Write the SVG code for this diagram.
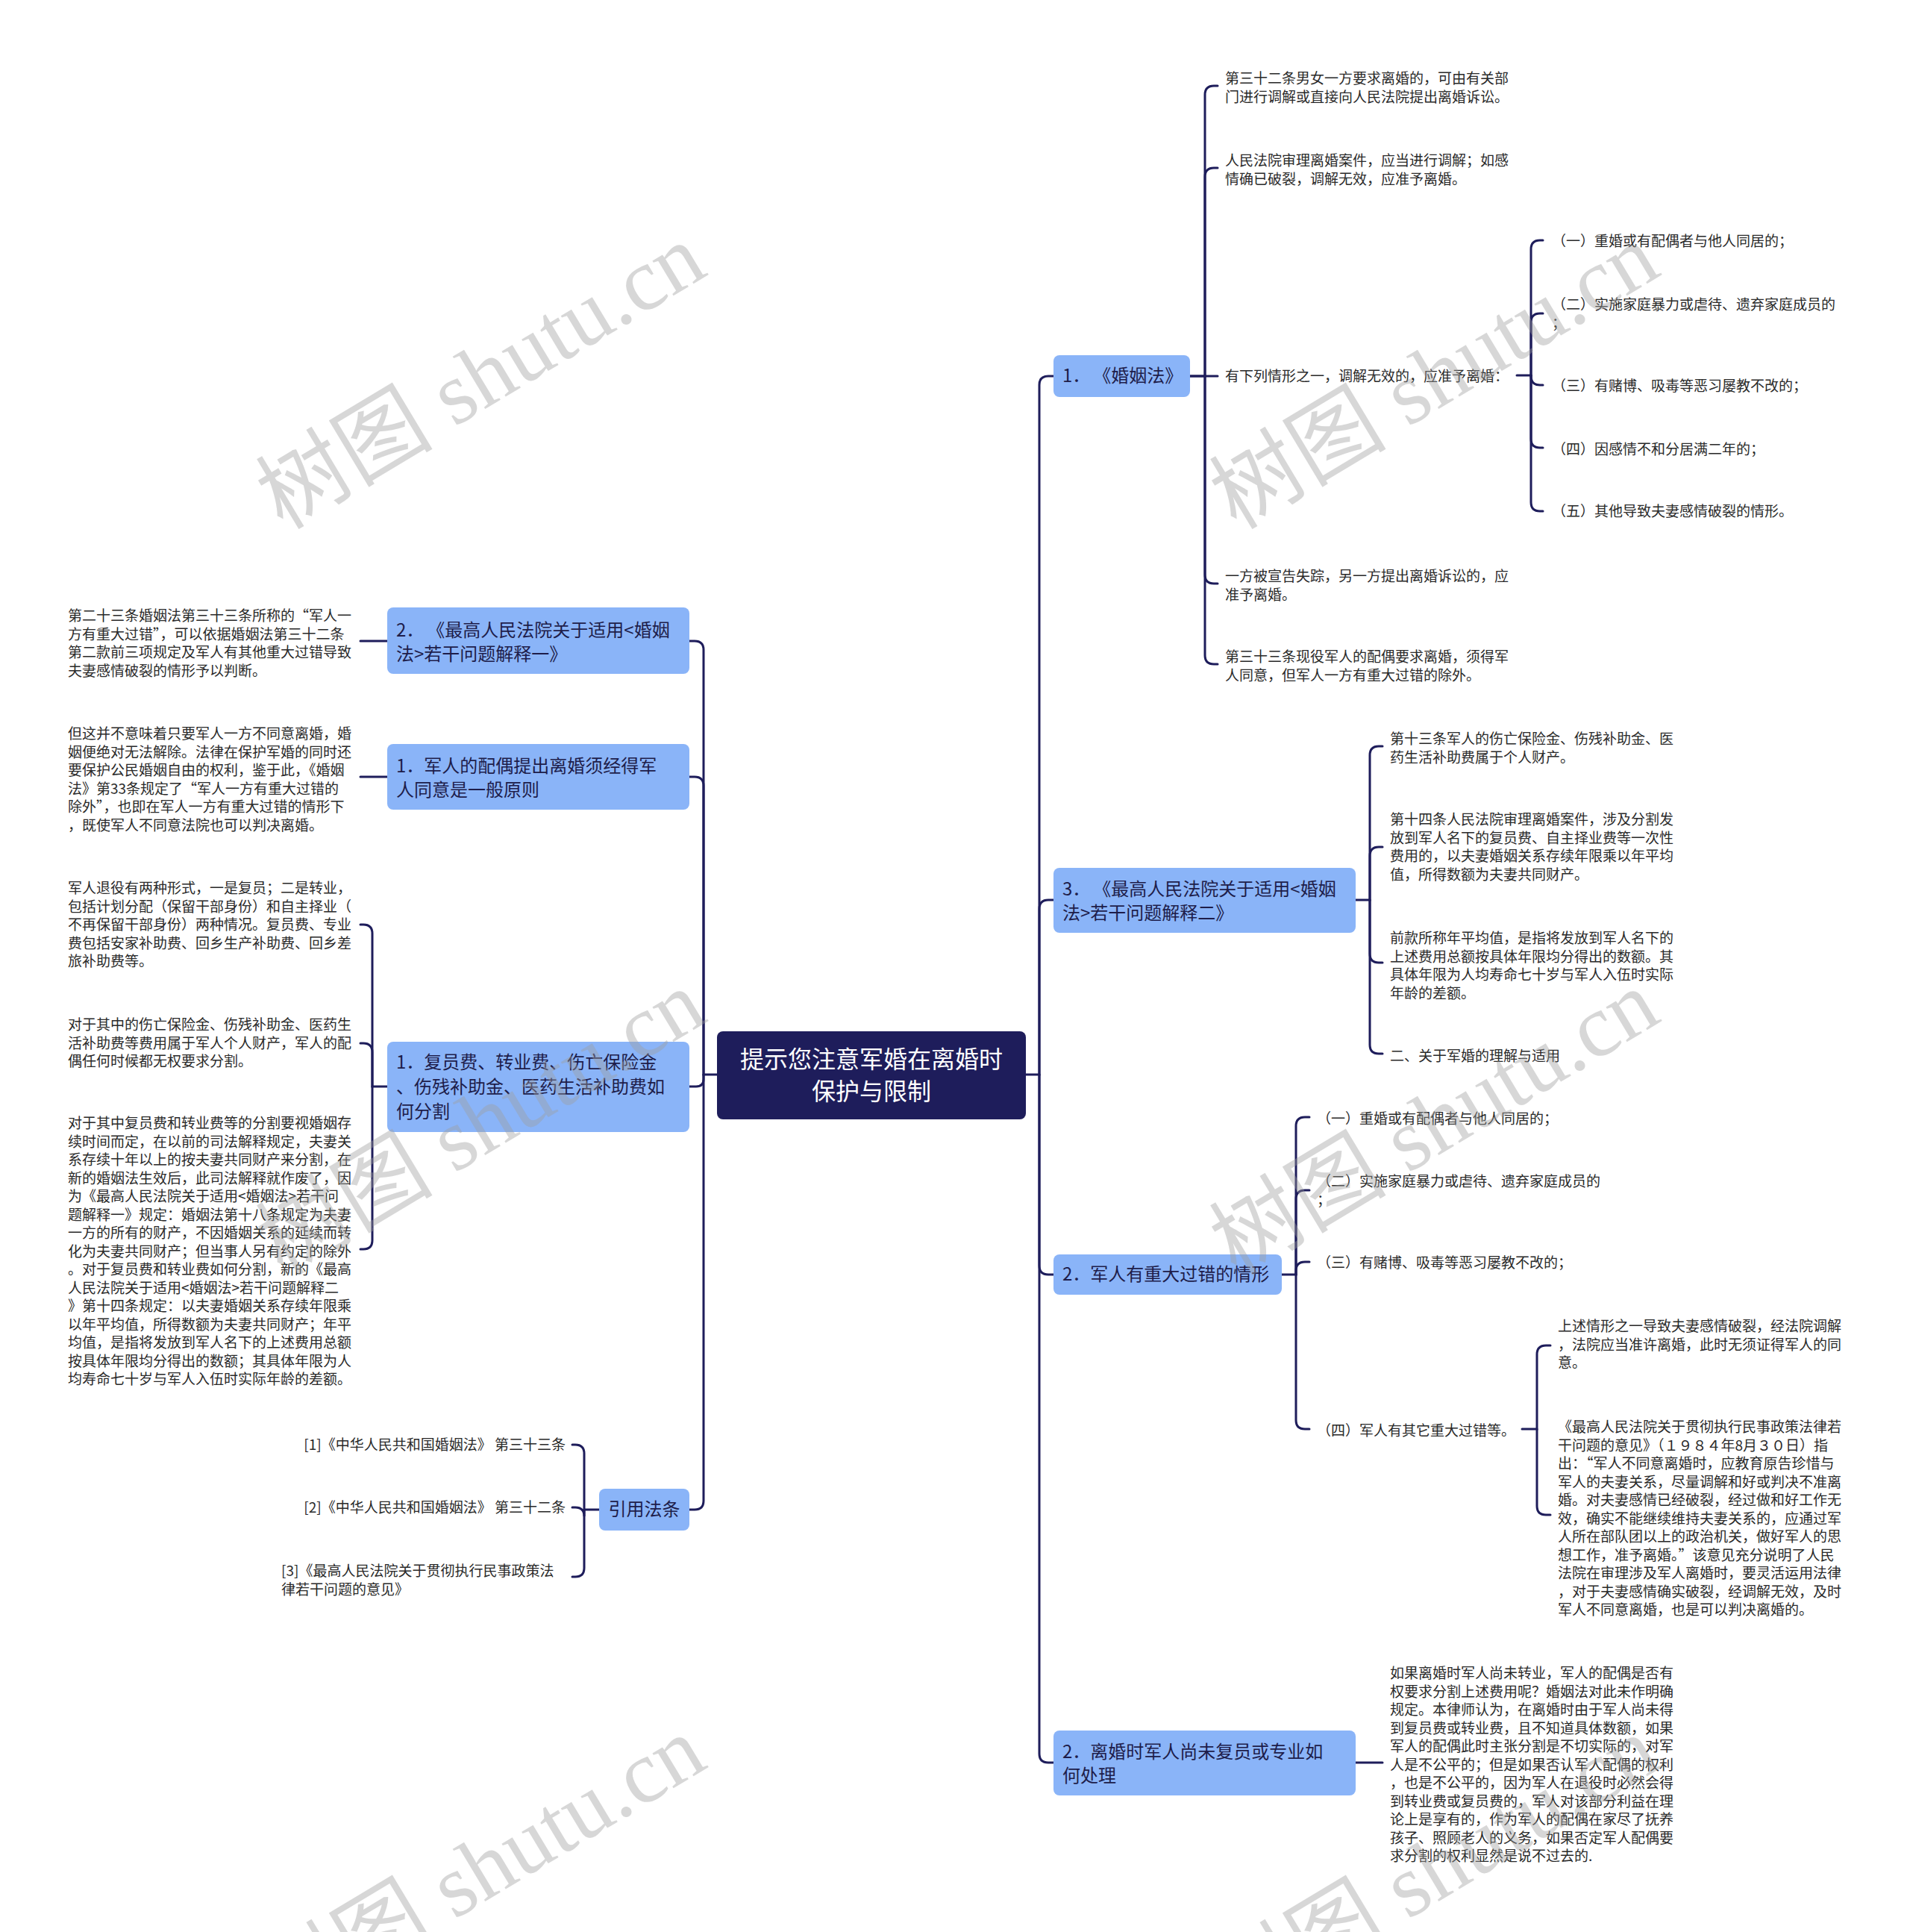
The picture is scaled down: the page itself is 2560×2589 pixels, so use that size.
<svg xmlns="http://www.w3.org/2000/svg" width="2560" height="2589" viewBox="0 0 2560 2589">
<style>
.bg{fill:#ffffff}
.cbox{fill:#1e1d5b}
.box{fill:#8ab4f8}
.ctext{font-family:"Noto Sans CJK SC","Liberation Sans",sans-serif;font-size:32px;fill:#ffffff;text-anchor:middle}
.btext{font-family:"Noto Sans CJK SC","Liberation Sans",sans-serif;font-size:24px;fill:#1e1d4a}
.leaf{font-family:"Noto Sans CJK SC","Liberation Sans",sans-serif;font-size:19px;fill:#2a2a2a}
.conn path{fill:none;stroke:#1e1d5b;stroke-width:3;stroke-linecap:round}
.wm{font-family:"Liberation Serif","Noto Sans CJK SC",serif;font-size:119px;fill:#9e9e9e;opacity:0.4}
</style>
<rect class="bg" x="0" y="0" width="2560" height="2589"/>

<g id="connectors" class="conn">
<path d="M1374,1440 H1393 V516 Q1393,504 1405,504 H1412"/>
<path d="M1393,1440 V1218 Q1393,1206 1405,1206 H1412"/>
<path d="M1393,1440 V1696 Q1393,1708 1405,1708 H1412"/>
<path d="M1393,1440 V2350 Q1393,2362 1405,2362 H1412"/>
<path d="M961,1440 H943 V871 Q943,859 931,859 H923"/>
<path d="M943,1440 V1053 Q943,1041 931,1041 H923"/>
<path d="M943,1440 V1446 Q943,1456 933,1456 H923"/>
<path d="M943,1440 V2011 Q943,2023 931,2023 H923"/>
<path d="M1595,504 H1615 V127 Q1615,115 1627,115 H1632"/>
<path d="M1615,504 V237 Q1615,225 1627,225 H1632"/>
<path d="M1595,504 H1632"/>
<path d="M1615,504 V770 Q1615,782 1627,782 H1632"/>
<path d="M1615,504 V878 Q1615,890 1627,890 H1632"/>
<path d="M2033,503 H2052 V334 Q2052,322 2064,322 H2068"/>
<path d="M2052,503 V432 Q2052,420 2064,420 H2068"/>
<path d="M2052,503 V504 Q2052,516 2064,516 H2068"/>
<path d="M2052,503 V588 Q2052,600 2064,600 H2068"/>
<path d="M2052,503 V673 Q2052,685 2064,685 H2068"/>
<path d="M1817,1206 H1836 V1012 Q1836,1000 1848,1000 H1853"/>
<path d="M1836,1206 V1147 Q1836,1135 1848,1135 H1853"/>
<path d="M1836,1206 V1278 Q1836,1290 1848,1290 H1853"/>
<path d="M1836,1206 V1400 Q1836,1412 1848,1412 H1853"/>
<path d="M1718,1708 H1737 V1509 Q1737,1497 1749,1497 H1755"/>
<path d="M1737,1708 V1607 Q1737,1595 1749,1595 H1755"/>
<path d="M1737,1708 V1703 Q1737,1691 1749,1691 H1755"/>
<path d="M1737,1708 V1903 Q1737,1915 1749,1915 H1755"/>
<path d="M2040,1915 H2060 V1815 Q2060,1803 2072,1803 H2078"/>
<path d="M2060,1915 V2018 Q2060,2030 2072,2030 H2078"/>
<path d="M1817,2362 H1853"/>
<path d="M519,859 H483"/>
<path d="M519,1041 H483"/>
<path d="M519,1456 H499 V1251 Q499,1239 487,1239 H483"/>
<path d="M499,1456 V1410 Q499,1398 487,1398 H483"/>
<path d="M499,1456 V1662 Q499,1674 487,1674 H483"/>
<path d="M803,2023 H783 V1948 Q783,1936 771,1936 H767"/>
<path d="M783,2023 V2032 Q783,2020 771,2020 H767"/>
<path d="M783,2023 V2101 Q783,2113 771,2113 H767"/>
</g>

<g id="center">
<rect class="cbox" x="961" y="1382" width="414" height="118" rx="8"/>
<text class="ctext" x="1168" y="1431">提示您注意军婚在离婚时</text>
<text class="ctext" x="1168" y="1474">保护与限制</text>
</g>

<g id="r1">
<rect class="box" x="1412" y="476" width="183" height="56" rx="8"/>
<text class="btext" x="1424" y="512">1．<tspan dx="16">《婚姻法》</tspan></text>
</g>
<g id="r1a"><text class="leaf" x="1642" y="112">第三十二条男女一方要求离婚的，可由有关部<tspan x="1642" dy="24.5">门进行调解或直接向人民法院提出离婚诉讼。</tspan></text></g>
<g id="r1b"><text class="leaf" x="1642" y="222">人民法院审理离婚案件，应当进行调解；如感<tspan x="1642" dy="24.5">情确已破裂，调解无效，应准予离婚。</tspan></text></g>
<g id="r1c"><text class="leaf" x="1642" y="511">有下列情形之一，调解无效的，应准予离婚：</text></g>
<g id="r1c1"><text class="leaf" x="2080" y="330">（一）重婚或有配偶者与他人同居的；</text></g>
<g id="r1c2"><text class="leaf" x="2080" y="415">（二）实施家庭暴力或虐待、遗弃家庭成员的<tspan x="2080" dy="24.5">；</tspan></text></g>
<g id="r1c3"><text class="leaf" x="2080" y="524">（三）有赌博、吸毒等恶习屡教不改的；</text></g>
<g id="r1c4"><text class="leaf" x="2080" y="609">（四）因感情不和分居满二年的；</text></g>
<g id="r1c5"><text class="leaf" x="2080" y="692">（五）其他导致夫妻感情破裂的情形。</text></g>
<g id="r1d"><text class="leaf" x="1642" y="779">一方被宣告失踪，另一方提出离婚诉讼的，应<tspan x="1642" dy="24.5">准予离婚。</tspan></text></g>
<g id="r1e"><text class="leaf" x="1642" y="887">第三十三条现役军人的配偶要求离婚，须得军<tspan x="1642" dy="24.5">人同意，但军人一方有重大过错的除外。</tspan></text></g>

<g id="r3">
<rect class="box" x="1412" y="1163" width="405" height="87" rx="8"/>
<text class="btext" x="1424" y="1200">3．<tspan dx="16">《最高人民法院关于适用&lt;婚姻</tspan><tspan x="1424" dy="32">法&gt;若干问题解释二》</tspan></text>
</g>
<g id="r3a"><text class="leaf" x="1863" y="997">第十三条军人的伤亡保险金、伤残补助金、医<tspan x="1863" dy="24.5">药生活补助费属于个人财产。</tspan></text></g>
<g id="r3b"><text class="leaf" x="1863" y="1105">第十四条人民法院审理离婚案件，涉及分割发<tspan x="1863" dy="24.5">放到军人名下的复员费、自主择业费等一次性</tspan><tspan x="1863" dy="24.5">费用的，以夫妻婚姻关系存续年限乘以年平均</tspan><tspan x="1863" dy="24.5">值，所得数额为夫妻共同财产。</tspan></text></g>
<g id="r3c"><text class="leaf" x="1863" y="1264">前款所称年平均值，是指将发放到军人名下的<tspan x="1863" dy="24.5">上述费用总额按具体年限均分得出的数额。其</tspan><tspan x="1863" dy="24.5">具体年限为人均寿命七十岁与军人入伍时实际</tspan><tspan x="1863" dy="24.5">年龄的差额。</tspan></text></g>
<g id="r3d"><text class="leaf" x="1863" y="1422">二、关于军婚的理解与适用</text></g>

<g id="r2">
<rect class="box" x="1412" y="1681" width="306" height="54" rx="8"/>
<text class="btext" x="1424" y="1716">2．军人有重大过错的情形</text>
</g>
<g id="r2c1"><text class="leaf" x="1765" y="1506">（一）重婚或有配偶者与他人同居的；</text></g>
<g id="r2c2"><text class="leaf" x="1765" y="1590">（二）实施家庭暴力或虐待、遗弃家庭成员的<tspan x="1765" dy="24.5">；</tspan></text></g>
<g id="r2c3"><text class="leaf" x="1765" y="1699">（三）有赌博、吸毒等恶习屡教不改的；</text></g>
<g id="r2c4"><text class="leaf" x="1765" y="1924">（四）军人有其它重大过错等。</text></g>
<g id="r2c4a"><text class="leaf" x="2088" y="1784">上述情形之一导致夫妻感情破裂，经法院调解<tspan x="2088" dy="24.5">，法院应当准许离婚，此时无须证得军人的同</tspan><tspan x="2088" dy="24.5">意。</tspan></text></g>
<g id="r2c4b"><text class="leaf" x="2088" y="1919">《最高人民法院关于贯彻执行民事政策法律若<tspan x="2088" dy="24.5">干问题的意见》（１９８４年8月３０日）指</tspan><tspan x="2088" dy="24.5">出：“军人不同意离婚时，应教育原告珍惜与</tspan><tspan x="2088" dy="24.5">军人的夫妻关系，尽量调解和好或判决不准离</tspan><tspan x="2088" dy="24.5">婚。对夫妻感情已经破裂，经过做和好工作无</tspan><tspan x="2088" dy="24.5">效，确实不能继续维持夫妻关系的，应通过军</tspan><tspan x="2088" dy="24.5">人所在部队团以上的政治机关，做好军人的思</tspan><tspan x="2088" dy="24.5">想工作，准予离婚。”该意见充分说明了人民</tspan><tspan x="2088" dy="24.5">法院在审理涉及军人离婚时，要灵活运用法律</tspan><tspan x="2088" dy="24.5">，对于夫妻感情确实破裂，经调解无效，及时</tspan><tspan x="2088" dy="24.5">军人不同意离婚，也是可以判决离婚的。</tspan></text></g>

<g id="r4">
<rect class="box" x="1412" y="2319" width="405" height="87" rx="8"/>
<text class="btext" x="1424" y="2356">2．离婚时军人尚未复员或专业如<tspan x="1424" dy="32">何处理</tspan></text>
</g>
<g id="r4a"><text class="leaf" x="1863" y="2249">如果离婚时军人尚未转业，军人的配偶是否有<tspan x="1863" dy="24.5">权要求分割上述费用呢？婚姻法对此未作明确</tspan><tspan x="1863" dy="24.5">规定。本律师认为，在离婚时由于军人尚未得</tspan><tspan x="1863" dy="24.5">到复员费或转业费，且不知道具体数额，如果</tspan><tspan x="1863" dy="24.5">军人的配偶此时主张分割是不切实际的，对军</tspan><tspan x="1863" dy="24.5">人是不公平的；但是如果否认军人配偶的权利</tspan><tspan x="1863" dy="24.5">，也是不公平的，因为军人在退役时必然会得</tspan><tspan x="1863" dy="24.5">到转业费或复员费的，军人对该部分利益在理</tspan><tspan x="1863" dy="24.5">论上是享有的，作为军人的配偶在家尽了抚养</tspan><tspan x="1863" dy="24.5">孩子、照顾老人的义务，如果否定军人配偶要</tspan><tspan x="1863" dy="24.5">求分割的权利显然是说不过去的.</tspan></text></g>

<g id="l1">
<rect class="box" x="519" y="814" width="405" height="89" rx="8"/>
<text class="btext" x="531" y="853">2．<tspan dx="16">《最高人民法院关于适用&lt;婚姻</tspan><tspan x="531" dy="32">法&gt;若干问题解释一》</tspan></text>
</g>
<g id="l1a"><text class="leaf" x="91" y="832">第二十三条婚姻法第三十三条所称的“军人一<tspan x="91" dy="24.5">方有重大过错”，可以依据婚姻法第三十二条</tspan><tspan x="91" dy="24.5">第二款前三项规定及军人有其他重大过错导致</tspan><tspan x="91" dy="24.5">夫妻感情破裂的情形予以判断。</tspan></text></g>

<g id="l2">
<rect class="box" x="519" y="997" width="405" height="88" rx="8"/>
<text class="btext" x="531" y="1035">1．军人的配偶提出离婚须经得军<tspan x="531" dy="32">人同意是一般原则</tspan></text>
</g>
<g id="l2a"><text class="leaf" x="91" y="990">但这并不意味着只要军人一方不同意离婚，婚<tspan x="91" dy="24.5">姻便绝对无法解除。法律在保护军婚的同时还</tspan><tspan x="91" dy="24.5">要保护公民婚姻自由的权利，鉴于此，《婚姻</tspan><tspan x="91" dy="24.5">法》第33条规定了“军人一方有重大过错的</tspan><tspan x="91" dy="24.5">除外”，也即在军人一方有重大过错的情形下</tspan><tspan x="91" dy="24.5">，既使军人不同意法院也可以判决离婚。</tspan></text></g>

<g id="l3">
<rect class="box" x="519" y="1396" width="405" height="121" rx="8"/>
<text class="btext" x="531" y="1432">1．复员费、转业费、伤亡保险金<tspan x="531" dy="33">、伤残补助金、医药生活补助费如</tspan><tspan x="531" dy="33">何分割</tspan></text>
</g>
<g id="l3a"><text class="leaf" x="91" y="1197">军人退役有两种形式，一是复员；二是转业，<tspan x="91" dy="24.5">包括计划分配（保留干部身份）和自主择业（</tspan><tspan x="91" dy="24.5">不再保留干部身份）两种情况。复员费、专业</tspan><tspan x="91" dy="24.5">费包括安家补助费、回乡生产补助费、回乡差</tspan><tspan x="91" dy="24.5">旅补助费等。</tspan></text></g>
<g id="l3b"><text class="leaf" x="91" y="1380">对于其中的伤亡保险金、伤残补助金、医药生<tspan x="91" dy="24.5">活补助费等费用属于军人个人财产，军人的配</tspan><tspan x="91" dy="24.5">偶任何时候都无权要求分割。</tspan></text></g>
<g id="l3c"><text class="leaf" x="91" y="1512">对于其中复员费和转业费等的分割要视婚姻存<tspan x="91" dy="24.5">续时间而定，在以前的司法解释规定，夫妻关</tspan><tspan x="91" dy="24.5">系存续十年以上的按夫妻共同财产来分割，在</tspan><tspan x="91" dy="24.5">新的婚姻法生效后，此司法解释就作废了，因</tspan><tspan x="91" dy="24.5">为《最高人民法院关于适用&lt;婚姻法&gt;若干问</tspan><tspan x="91" dy="24.5">题解释一》规定：婚姻法第十八条规定为夫妻</tspan><tspan x="91" dy="24.5">一方的所有的财产，不因婚姻关系的延续而转</tspan><tspan x="91" dy="24.5">化为夫妻共同财产；但当事人另有约定的除外</tspan><tspan x="91" dy="24.5">。对于复员费和转业费如何分割，新的《最高</tspan><tspan x="91" dy="24.5">人民法院关于适用&lt;婚姻法&gt;若干问题解释二</tspan><tspan x="91" dy="24.5">》第十四条规定：以夫妻婚姻关系存续年限乘</tspan><tspan x="91" dy="24.5">以年平均值，所得数额为夫妻共同财产；年平</tspan><tspan x="91" dy="24.5">均值，是指将发放到军人名下的上述费用总额</tspan><tspan x="91" dy="24.5">按具体年限均分得出的数额；其具体年限为人</tspan><tspan x="91" dy="24.5">均寿命七十岁与军人入伍时实际年龄的差额。</tspan></text></g>

<g id="l4">
<rect class="box" x="803" y="1995" width="121" height="56" rx="8"/>
<text class="btext" x="863.5" y="2031" text-anchor="middle">引用法条</text>
</g>
<g id="l4a"><text class="leaf" x="758" y="1943" text-anchor="end">[1]《中华人民共和国婚姻法》 第三十三条</text></g>
<g id="l4b"><text class="leaf" x="758" y="2027" text-anchor="end">[2]《中华人民共和国婚姻法》 第三十二条</text></g>
<g id="l4c"><text class="leaf" x="377" y="2112">[3]《最高人民法院关于贯彻执行民事政策法<tspan x="377" dy="24.5">律若干问题的意见》</tspan></text></g>

<g id="watermarks">
<text class="wm" transform="translate(379,711) rotate(-31)">树图 shutu.cn</text>
<text class="wm" transform="translate(1657,711) rotate(-31)">树图 shutu.cn</text>
<text class="wm" transform="translate(379,1711) rotate(-31)">树图 shutu.cn</text>
<text class="wm" transform="translate(1657,1711) rotate(-31)">树图 shutu.cn</text>
<text class="wm" transform="translate(379,2711) rotate(-31)">树图 shutu.cn</text>
<text class="wm" transform="translate(1657,2711) rotate(-31)">树图 shutu.cn</text>
</g>
</svg>
